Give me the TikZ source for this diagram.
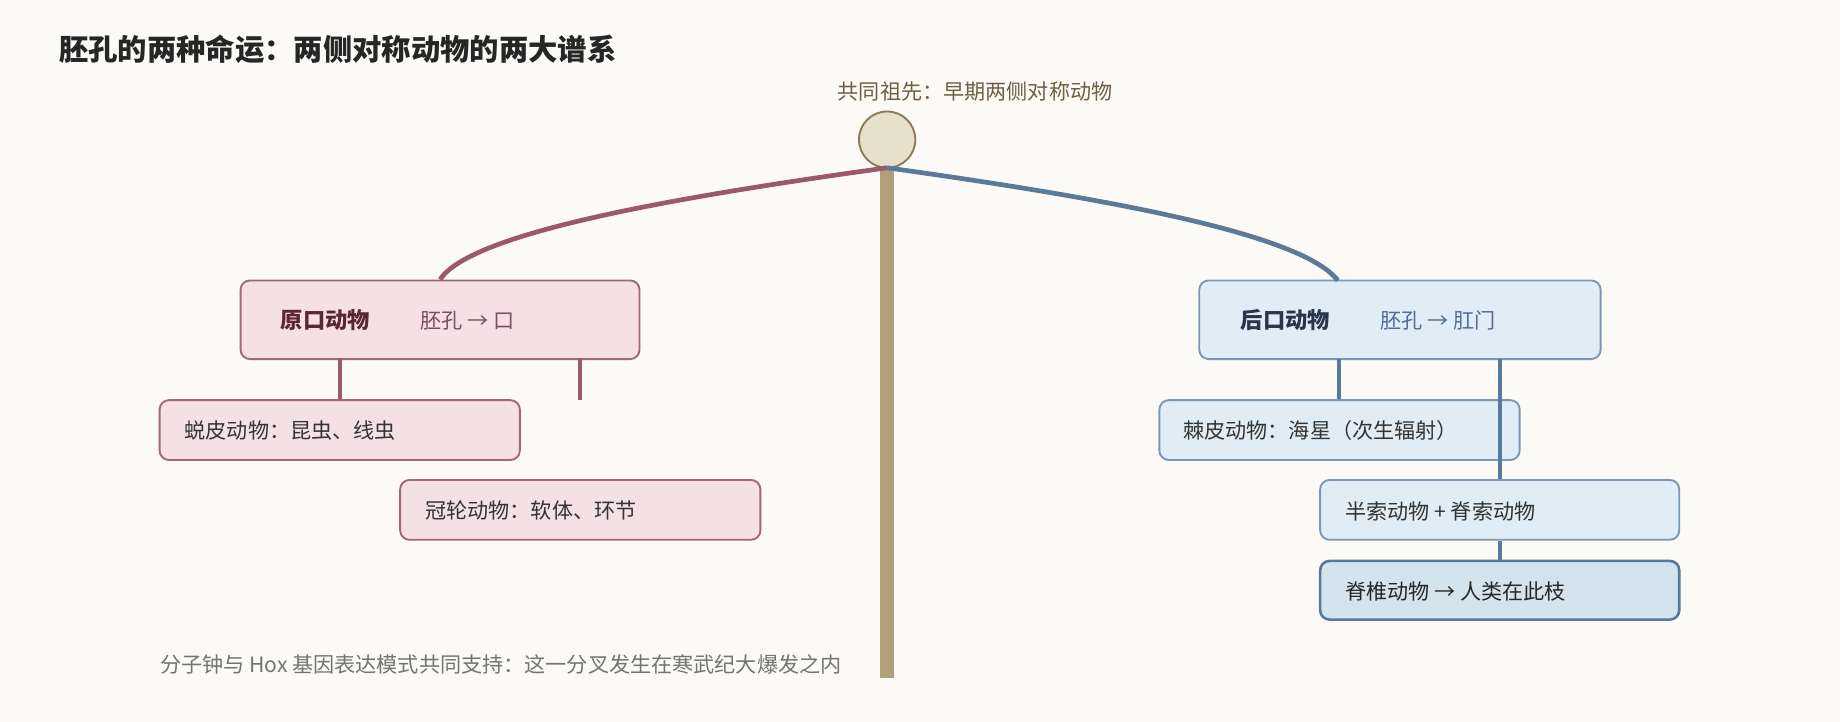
\documentclass[tikz,border=0pt]{standalone}
\usepackage{fontspec}
\setmainfont{Noto Sans CJK SC}
\begin{document}
\begin{tikzpicture}[x=0.5pt,y=-0.5pt,
  box/.style={draw,rounded corners=4pt,line width=0.8pt,inner sep=0pt,font=\fontsize{9}{11}\selectfont},
  pbox/.style={box,fill=pf,draw=ps},
  dbox/.style={box,fill=df,draw=ds},
  txt/.style={anchor=west,inner sep=0pt,font=\fontsize{9}{11}\selectfont}]
\definecolor{bg}{HTML}{FBFAF7}
\definecolor{pf}{HTML}{F5E0E6}\definecolor{ps}{HTML}{A06878}\definecolor{pl}{HTML}{9B5A6A}
\definecolor{df}{HTML}{E0ECF6}\definecolor{ds}{HTML}{7A98B4}\definecolor{dl}{HTML}{5A7A9A}
\definecolor{vf}{HTML}{D4E4EF}\definecolor{vs}{HTML}{5A7898}
\definecolor{tr}{HTML}{B0A07A}
\fill[bg] (0,0) rectangle (1568,615);
\useasboundingbox (0,0) rectangle (1568,615);
\node[anchor=west,inner sep=0pt,font=\fontsize{12.5}{14}\selectfont\bfseries,text=black!85] (title) at (50,42) {胚孔的两种命运：两侧对称动物的两大谱系};
\node[inner sep=0pt,font=\fontsize{9}{11}\selectfont,text={rgb,255:red,110;green,95;blue,65}] (anc) at (831,78) {共同祖先：早期两侧对称动物};
% trunk
\coordinate (top) at (756,143);
\coordinate (bot) at (756,578);
\draw[tr,line width=6pt] (top) -- (bot);
\node[circle,minimum size=24pt,inner sep=0pt,fill={rgb,255:red,232;green,223;blue,204},draw={rgb,255:red,138;green,122;blue,85},line width=0.8pt] (root) at (756,119) {};
% boxes
\node[pbox,minimum width=170pt,minimum height=33.5pt] (P) at (375,272.5) {};
\node[txt,font=\fontsize{9.5}{11}\selectfont\bfseries,text={rgb,255:red,90;green,40;blue,50}] (Pt) at (239,273) {原口动物};
\node[txt,text={rgb,255:red,120;green,80;blue,95}] (Pt2) at (358,273) {胚孔 → 口};
\node[dbox,minimum width=171pt,minimum height=33.5pt] (D) at (1193,272.5) {};
\node[txt,font=\fontsize{9.5}{11}\selectfont\bfseries,text={rgb,255:red,40;green,55;blue,75}] (Dt) at (1057,273) {后口动物};
\node[txt,text={rgb,255:red,80;green,110;blue,145}] (Dt2) at (1176,273) {胚孔 → 肛门};
\node[pbox,minimum width=153.5pt,minimum height=25.5pt] (E) at (289.5,366.5) {};
\node[txt,text=black!80] at (157,367) {蜕皮动物：昆虫、线虫};
\node[pbox,minimum width=153.5pt,minimum height=25.5pt] (L) at (494.5,434.5) {};
\node[txt,text=black!80] at (362,435) {冠轮动物：软体、环节};
\node[dbox,minimum width=153.5pt,minimum height=25.5pt] (C) at (1141.5,366.5) {};
\node[txt,text=black!80] at (1008,367) {棘皮动物：海星（次生辐射）};
\node[dbox,minimum width=153pt,minimum height=25.5pt] (H) at (1278,434.5) {};
\node[txt,text=black!80] at (1146,436) {半索动物 + 脊索动物};
\node[box,fill=vf,draw=vs,line width=1.1pt,minimum width=153pt,minimum height=25pt] (V) at (1278,503) {};
\node[txt,text=black!85] at (1146,504) {脊椎动物 → 人类在此枝};
% curves
\draw[pl,line width=2pt] (top) .. controls (560,170) and (400,200) .. (P.north);
\draw[dl,line width=2pt] (top) .. controls (950,170) and (1110,200) .. (1140,239);
% connectors
\coordinate (pe) at (494,341);
\draw[pl,line width=1.6pt] (290,306) -- (E.north -| 290,0);
\draw[pl,line width=1.6pt] (494,306) -- (pe);
\draw[dl,line width=1.6pt] (1141,306) -- (C.north -| 1141,0);
\draw[dl,line width=1.6pt] (1278,306) -- (H.north);
\draw[dl,line width=1.6pt] (H.south) -- (V.north);
\node[txt,text=black!55] (foot) at (136,566) {分子钟与 Hox 基因表达模式共同支持：这一分叉发生在寒武纪大爆发之内};
\end{tikzpicture}
\end{document}
